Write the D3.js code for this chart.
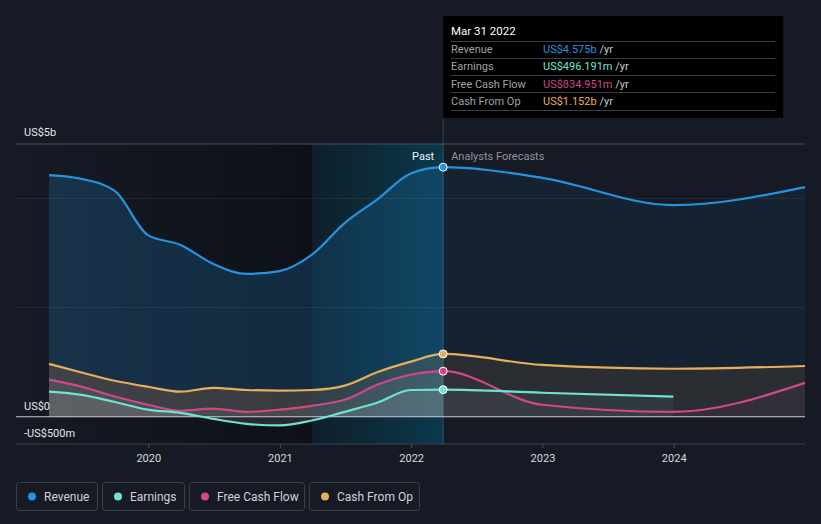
<!DOCTYPE html>
<html><head><meta charset="utf-8">
<script src="https://cdn.jsdelivr.net/npm/d3@7"></script>
<style>body{margin:0;background:#151a25;font-family:Roboto,"Noto Sans",sans-serif}svg{display:block}</style>
</head><body>
<svg id="c" width="821" height="524"></svg>
<script>
// ---- data (US$ billions) ----
const pastDates = ["2019-03-31","2019-06-30","2019-09-30","2019-12-31","2020-03-31","2020-06-30","2020-09-30","2020-12-31","2021-03-31","2021-06-30","2021-09-30","2021-12-31","2022-03-31"];
const forecastDates = ["2022-03-31","2022-12-31","2023-12-31","2024-12-31"];
const revenuePast = [4.43,4.36,4.14,3.33,3.15,2.80,2.62,2.67,2.97,3.55,3.99,4.46,4.575];
const revenueForecast = [4.575,4.38,3.88,4.21];
const earningsPast = [0.46,0.40,0.27,0.13,0.07,-0.04,-0.13,-0.16,-0.07,0.09,0.26,0.49,0.496];
const earningsForecast = [0.496,0.44,0.37];
const fcfPast = [0.68,0.55,0.37,0.22,0.11,0.15,0.09,0.13,0.20,0.31,0.59,0.77,0.835];
const fcfForecast = [0.835,0.22,0.09,0.62];
const cfoPast = [0.97,0.81,0.66,0.55,0.46,0.53,0.49,0.48,0.49,0.57,0.82,1.01,1.152];
const cfoForecast = [1.152,0.95,0.88,0.93];
const yTickValues = [-0.5,0,5];
const yTickLabels = ["-US$500m","US$0","US$5b"];
const gridValues = [2,4];
const xTickYears = [2020,2021,2022,2023,2024];
const seriesNames = ["Revenue","Earnings","Free Cash Flow","Cash From Op"];
const seriesColors = ["#2394df","#6fe3d1","#d1478a","#e9ae5b"];
const tooltipDate = "Mar 31 2022";
const tooltipValues = ["US$4.575b","US$496.191m","US$834.951m","US$1.152b"];
const nowDate = "2022-03-31";
const highlightStart = "2021-03-31";

const parse = d3.timeParse("%Y-%m-%d");
function build(pd, pv, fd, fv){
  const a = pd.map((d,i)=>({date:parse(d),v:pv[i]}));
  fd.slice(1,fv.length).forEach((d,i)=>a.push({date:parse(d),v:fv[i+1]}));
  return a;
}
const revenue = build(pastDates,revenuePast,forecastDates,revenueForecast);
const earnings = build(pastDates,earningsPast,forecastDates,earningsForecast);
const fcf = build(pastDates,fcfPast,forecastDates,fcfForecast);
const cfo = build(pastDates,cfoPast,forecastDates,cfoForecast);

const svg = d3.select("#c");
const x = d3.scaleTime().domain([parse("2019-03-31"),parse("2024-12-31")]).range([49,805]);
const y = d3.scaleLinear().domain([-0.5,5]).range([444,144]);
const L = 16, R = 805;
const xNow = x(parse(nowDate)), xHi = x(parse(highlightStart));

const defs = svg.append("defs");
const gDark = defs.append("linearGradient").attr("id","gDark").attr("x1","0").attr("x2","1");
gDark.append("stop").attr("offset","0").attr("stop-color","#000").attr("stop-opacity",0);
gDark.append("stop").attr("offset","1").attr("stop-color","#000").attr("stop-opacity",0.38);
const gHi = defs.append("linearGradient").attr("id","gHi").attr("x1","0").attr("x2","1");
gHi.append("stop").attr("offset","0").attr("stop-color","#0e1f29");
gHi.append("stop").attr("offset","1").attr("stop-color","#0b384d");
defs.append("clipPath").attr("id","cpHi").append("rect").attr("x",xHi).attr("y",0).attr("width",xNow-xHi).attr("height",524);
defs.append("clipPath").attr("id","cpPast").append("rect").attr("x",0).attr("y",0).attr("width",xHi).attr("height",524);
defs.append("clipPath").attr("id","cpFut").append("rect").attr("x",xNow).attr("y",0).attr("width",821).attr("height",524);

svg.append("rect").attr("width",821).attr("height",524).attr("fill","#151a25");
svg.append("rect").attr("x",L).attr("y",y(5)).attr("width",xHi-L).attr("height",y(-0.5)-y(5)).attr("fill","url(#gDark)");
svg.append("rect").attr("x",xHi).attr("y",y(5)).attr("width",xNow-xHi).attr("height",y(-0.5)-y(5)).attr("fill","url(#gHi)");

const curve = d3.curveMonotoneX;
const band = d3.area().curve(curve).x(d=>x(d.date)).y0(d=>y(d.lo)).y1(d=>y(d.v));
const revBand = revenue.map((d,i)=>({date:d.date,v:d.v,lo:cfo[i].v}));
const toZero = d3.area().curve(curve).x(d=>x(d.date)).y0(y(0)).y1(d=>y(d.v));

function areas(clip, revOp, grayOp, tint){
  const g = svg.append("g").attr("clip-path",`url(#${clip})`);
  g.append("path").datum(revBand).attr("d",band).attr("fill","#2394df").attr("fill-opacity",revOp);
  g.append("path").datum(cfo).attr("d",toZero).attr("fill",tint?"#c8c3a0":"#d8d8c8").attr("fill-opacity",grayOp);
  g.append("path").datum(fcf).attr("d",toZero).attr("fill",tint?"#d1478a":"#ffffff").attr("fill-opacity",tint?0.06:0.07);
  g.append("path").datum(earnings).attr("d",toZero).attr("fill",tint?"#6fe3d1":"#ffffff").attr("fill-opacity",tint?0.07:0.1);
}
areas("cpPast",0.2,0.22,false);
areas("cpHi",0.17,0.18,false);
areas("cpFut",0.07,0.12,true);

// gridlines
gridValues.forEach(v=>svg.append("line").attr("x1",L).attr("x2",R).attr("y1",y(v)).attr("y2",y(v)).attr("stroke","#ffffff").attr("stroke-opacity",0.07));
svg.append("line").attr("x1",L).attr("x2",R).attr("y1",y(5)).attr("y2",y(5)).attr("stroke","#4a4f57");
svg.append("line").attr("x1",L).attr("x2",R).attr("y1",y(-0.5)).attr("y2",y(-0.5)).attr("stroke","#3c414a");
svg.append("line").attr("x1",L).attr("x2",R).attr("y1",y(0)).attr("y2",y(0)).attr("stroke","#c9ccd2").attr("stroke-width",1.2);

// x axis
const xAxis = d3.axisBottom(x).tickValues(xTickYears.map(yr=>new Date(yr,0,1))).tickFormat(d3.timeFormat("%Y")).tickSize(4).tickPadding(6);
const gx = svg.append("g").attr("transform",`translate(0,${y(-0.5)})`).call(xAxis);
gx.select(".domain").remove();
gx.selectAll(".tick line").attr("stroke","#4a4f57");
gx.selectAll(".tick text").attr("fill","#d6d9de").attr("font-size",11).attr("font-family","Roboto,sans-serif");

// y labels
const yLabelOffset = [7,7,8];
yTickValues.forEach((v,i)=>{
  const yy = v<0 ? y(0)+20 : y(v)-yLabelOffset[i];
  svg.append("text").attr("x",24).attr("y",yy).attr("fill","#e4e6ea").attr("font-size",11).text(yTickLabels[i]);
});

// lines
const line = d3.line().curve(curve).x(d=>x(d.date)).y(d=>y(d.v));
[[cfo,3],[fcf,2],[earnings,1],[revenue,0]].forEach(([data,ci])=>{
  svg.append("path").datum(data).attr("d",line).attr("fill","none").attr("stroke",seriesColors[ci]).attr("stroke-width",2.2);
});

// now line
svg.append("line").attr("x1",xNow).attr("x2",xNow).attr("y1",118).attr("y2",y(-0.5)).attr("stroke","#5fb2d0").attr("stroke-opacity",0.3);

// dots
const nowVals = [revenuePast,earningsPast,fcfPast,cfoPast].map(a=>a[a.length-1]);
nowVals.forEach((v,i)=>svg.append("circle").attr("cx",xNow).attr("cy",y(v)).attr("r",4).attr("fill",seriesColors[i]).attr("stroke","#fff").attr("stroke-width",1));

svg.append("text").attr("x",xNow-9).attr("y",160).attr("text-anchor","end").attr("fill","#f0f2f5").attr("font-size",11).text("Past");
svg.append("text").attr("x",xNow+8).attr("y",160).attr("fill","#8e939b").attr("font-size",11).text("Analysts Forecasts");

// tooltip
const tt = svg.append("g");
tt.append("rect").attr("x",xNow).attr("y",16).attr("width",340).attr("height",102).attr("fill","#000");
tt.append("text").attr("x",451).attr("y",35).attr("fill","#fff").attr("font-size",11.5).text(tooltipDate);
[41,58,75,92,110].forEach(yy=>tt.append("line").attr("x1",451).attr("x2",775).attr("y1",yy+0.5).attr("y2",yy+0.5).attr("stroke","#3a3d42"));
seriesNames.forEach((n,i)=>{
  const yy = 53+i*17.3;
  tt.append("text").attr("x",451).attr("y",yy).attr("fill","#9ea2a8").attr("font-size",11).text(n);
  const t = tt.append("text").attr("x",543).attr("y",yy).attr("font-size",11);
  t.append("tspan").attr("fill",seriesColors[i]).text(tooltipValues[i]);
  t.append("tspan").attr("fill","#c8cbd0").text(" /yr");
});

// legend
const leg = svg.append("g");
let lx = 16;
seriesNames.forEach((n,i)=>{
  const w = [81,82,115,110][i];
  leg.append("rect").attr("x",lx+0.5).attr("y",482.5).attr("width",w).attr("height",28).attr("rx",3).attr("fill","none").attr("stroke","#3a3f48");
  leg.append("circle").attr("cx",lx+16).attr("cy",496.5).attr("r",4).attr("fill",seriesColors[i]);
  leg.append("text").attr("x",lx+28).attr("y",500.5).attr("fill","#d0d3d8").attr("font-size",12).text(n);
  lx += w+5;
});
</script>
</body></html>
